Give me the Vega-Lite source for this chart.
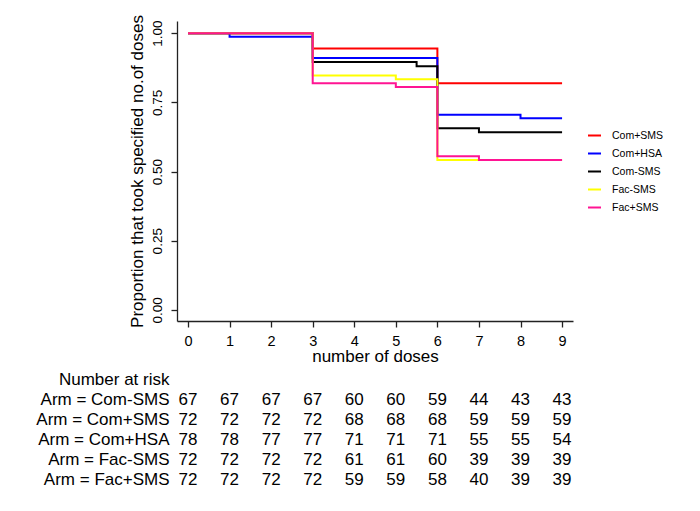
{
  "$schema": "https://vega.github.io/schema/vega-lite/v6.json",
  "padding": {"left": 35, "top": 14, "right": 5, "bottom": 5},
  "background": "white",
  "config": {
    "font": "Liberation Sans",
    "view": {"stroke": null},
    "axis": {
      "grid": false,
      "domainColor": "#222222",
      "tickColor": "#222222",
      "domainWidth": 1.3,
      "tickWidth": 1.3,
      "labelColor": "black",
      "titleColor": "black",
      "labelFont": "Liberation Sans",
      "titleFont": "Liberation Sans",
      "titleFontWeight": "normal"
    }
  },
  "datasets": {
    "curves": [
      {"arm": "Com+SMS", "dose": 0, "surv": 1},
      {"arm": "Com+SMS", "dose": 3, "surv": 0.9444},
      {"arm": "Com+SMS", "dose": 6, "surv": 0.8194},
      {"arm": "Com+SMS", "dose": 9, "surv": 0.8194},
      {"arm": "Com+HSA", "dose": 0, "surv": 1},
      {"arm": "Com+HSA", "dose": 1, "surv": 0.9872},
      {"arm": "Com+HSA", "dose": 3, "surv": 0.9103},
      {"arm": "Com+HSA", "dose": 6, "surv": 0.7051},
      {"arm": "Com+HSA", "dose": 8, "surv": 0.6923},
      {"arm": "Com+HSA", "dose": 9, "surv": 0.6923},
      {"arm": "Com-SMS", "dose": 0, "surv": 1},
      {"arm": "Com-SMS", "dose": 3, "surv": 0.8955},
      {"arm": "Com-SMS", "dose": 5.5, "surv": 0.8806},
      {"arm": "Com-SMS", "dose": 6, "surv": 0.6567},
      {"arm": "Com-SMS", "dose": 7, "surv": 0.6418},
      {"arm": "Com-SMS", "dose": 9, "surv": 0.6418},
      {"arm": "Fac-SMS", "dose": 0, "surv": 1},
      {"arm": "Fac-SMS", "dose": 3, "surv": 0.8472},
      {"arm": "Fac-SMS", "dose": 5, "surv": 0.8333},
      {"arm": "Fac-SMS", "dose": 6, "surv": 0.5417},
      {"arm": "Fac-SMS", "dose": 9, "surv": 0.5417},
      {"arm": "Fac+SMS", "dose": 0, "surv": 1},
      {"arm": "Fac+SMS", "dose": 3, "surv": 0.8194},
      {"arm": "Fac+SMS", "dose": 5, "surv": 0.8056},
      {"arm": "Fac+SMS", "dose": 6, "surv": 0.5556},
      {"arm": "Fac+SMS", "dose": 7, "surv": 0.5417},
      {"arm": "Fac+SMS", "dose": 9, "surv": 0.5417}
    ],
    "risk": [
      {"row": "Arm = Com-SMS", "dose": 0, "n": 67}, {"row": "Arm = Com-SMS", "dose": 1, "n": 67},
      {"row": "Arm = Com-SMS", "dose": 2, "n": 67}, {"row": "Arm = Com-SMS", "dose": 3, "n": 67},
      {"row": "Arm = Com-SMS", "dose": 4, "n": 60}, {"row": "Arm = Com-SMS", "dose": 5, "n": 60},
      {"row": "Arm = Com-SMS", "dose": 6, "n": 59}, {"row": "Arm = Com-SMS", "dose": 7, "n": 44},
      {"row": "Arm = Com-SMS", "dose": 8, "n": 43}, {"row": "Arm = Com-SMS", "dose": 9, "n": 43},
      {"row": "Arm = Com+SMS", "dose": 0, "n": 72}, {"row": "Arm = Com+SMS", "dose": 1, "n": 72},
      {"row": "Arm = Com+SMS", "dose": 2, "n": 72}, {"row": "Arm = Com+SMS", "dose": 3, "n": 72},
      {"row": "Arm = Com+SMS", "dose": 4, "n": 68}, {"row": "Arm = Com+SMS", "dose": 5, "n": 68},
      {"row": "Arm = Com+SMS", "dose": 6, "n": 68}, {"row": "Arm = Com+SMS", "dose": 7, "n": 59},
      {"row": "Arm = Com+SMS", "dose": 8, "n": 59}, {"row": "Arm = Com+SMS", "dose": 9, "n": 59},
      {"row": "Arm = Com+HSA", "dose": 0, "n": 78}, {"row": "Arm = Com+HSA", "dose": 1, "n": 78},
      {"row": "Arm = Com+HSA", "dose": 2, "n": 77}, {"row": "Arm = Com+HSA", "dose": 3, "n": 77},
      {"row": "Arm = Com+HSA", "dose": 4, "n": 71}, {"row": "Arm = Com+HSA", "dose": 5, "n": 71},
      {"row": "Arm = Com+HSA", "dose": 6, "n": 71}, {"row": "Arm = Com+HSA", "dose": 7, "n": 55},
      {"row": "Arm = Com+HSA", "dose": 8, "n": 55}, {"row": "Arm = Com+HSA", "dose": 9, "n": 54},
      {"row": "Arm = Fac-SMS", "dose": 0, "n": 72}, {"row": "Arm = Fac-SMS", "dose": 1, "n": 72},
      {"row": "Arm = Fac-SMS", "dose": 2, "n": 72}, {"row": "Arm = Fac-SMS", "dose": 3, "n": 72},
      {"row": "Arm = Fac-SMS", "dose": 4, "n": 61}, {"row": "Arm = Fac-SMS", "dose": 5, "n": 61},
      {"row": "Arm = Fac-SMS", "dose": 6, "n": 60}, {"row": "Arm = Fac-SMS", "dose": 7, "n": 39},
      {"row": "Arm = Fac-SMS", "dose": 8, "n": 39}, {"row": "Arm = Fac-SMS", "dose": 9, "n": 39},
      {"row": "Arm = Fac+SMS", "dose": 0, "n": 72}, {"row": "Arm = Fac+SMS", "dose": 1, "n": 72},
      {"row": "Arm = Fac+SMS", "dose": 2, "n": 72}, {"row": "Arm = Fac+SMS", "dose": 3, "n": 72},
      {"row": "Arm = Fac+SMS", "dose": 4, "n": 59}, {"row": "Arm = Fac+SMS", "dose": 5, "n": 59},
      {"row": "Arm = Fac+SMS", "dose": 6, "n": 58}, {"row": "Arm = Fac+SMS", "dose": 7, "n": 40},
      {"row": "Arm = Fac+SMS", "dose": 8, "n": 39}, {"row": "Arm = Fac+SMS", "dose": 9, "n": 39}
    ]
  },
  "spacing": 4.5,
  "vconcat": [
    {
      "width": 396,
      "height": 300,
      "data": {"name": "curves"},
      "mark": {"type": "line", "interpolate": "step-after", "strokeWidth": 2},
      "encoding": {
        "x": {
          "field": "dose", "type": "quantitative",
          "scale": {"domain": [-0.265, 9.263], "nice": false, "zero": false},
          "axis": {"values": [0, 1, 2, 3, 4, 5, 6, 7, 8, 9], "tickSize": 6, "labelFontSize": 14.5, "labelPadding": 7, "titleFontSize": 17, "titlePadding": 1},
          "title": "number of doses"
        },
        "y": {
          "field": "surv", "type": "quantitative",
          "scale": {"domain": [-0.04, 1.044], "nice": false, "zero": false},
          "axis": {"values": [0, 0.25, 0.5, 0.75, 1], "format": ".2f", "tickSize": 6, "labelAngle": -90, "labelFontSize": 13.5, "labelPadding": 7, "titleFontSize": 17, "titlePadding": 4},
          "title": "Proportion that took specified no.of doses"
        },
        "color": {
          "field": "arm", "type": "nominal",
          "scale": {
            "domain": ["Com+SMS", "Com+HSA", "Com-SMS", "Fac-SMS", "Fac+SMS"],
            "range": ["#ff0000", "#0000ff", "#000000", "#ffff00", "#ff1493"]
          },
          "legend": {
            "title": null, "orient": "none", "legendX": 410, "legendY": 107,
            "padding": 0, "symbolType": "stroke", "symbolStrokeWidth": 2, "symbolSize": 169,
            "labelFontSize": 10.5, "labelFont": "Liberation Sans", "labelColor": "black",
            "labelOffset": 10, "rowPadding": 5
          }
        }
      }
    },
    {
      "width": 396,
      "height": 120,
      "data": {"name": "risk"},
      "mark": {"type": "text", "fontSize": 17, "font": "Liberation Sans", "color": "black"},
      "encoding": {
        "x": {
          "field": "dose", "type": "quantitative",
          "scale": {"domain": [-0.265, 9.263], "nice": false, "zero": false},
          "axis": null
        },
        "y": {
          "field": "row", "type": "nominal",
          "scale": {"domain": ["Number at risk", "Arm = Com-SMS", "Arm = Com+SMS", "Arm = Com+HSA", "Arm = Fac-SMS", "Arm = Fac+SMS"]},
          "axis": {"domain": false, "ticks": false, "labelPadding": 8, "labelFontSize": 17, "labelLimit": 300},
          "title": null
        },
        "text": {"field": "n", "type": "quantitative"}
      }
    }
  ]
}
